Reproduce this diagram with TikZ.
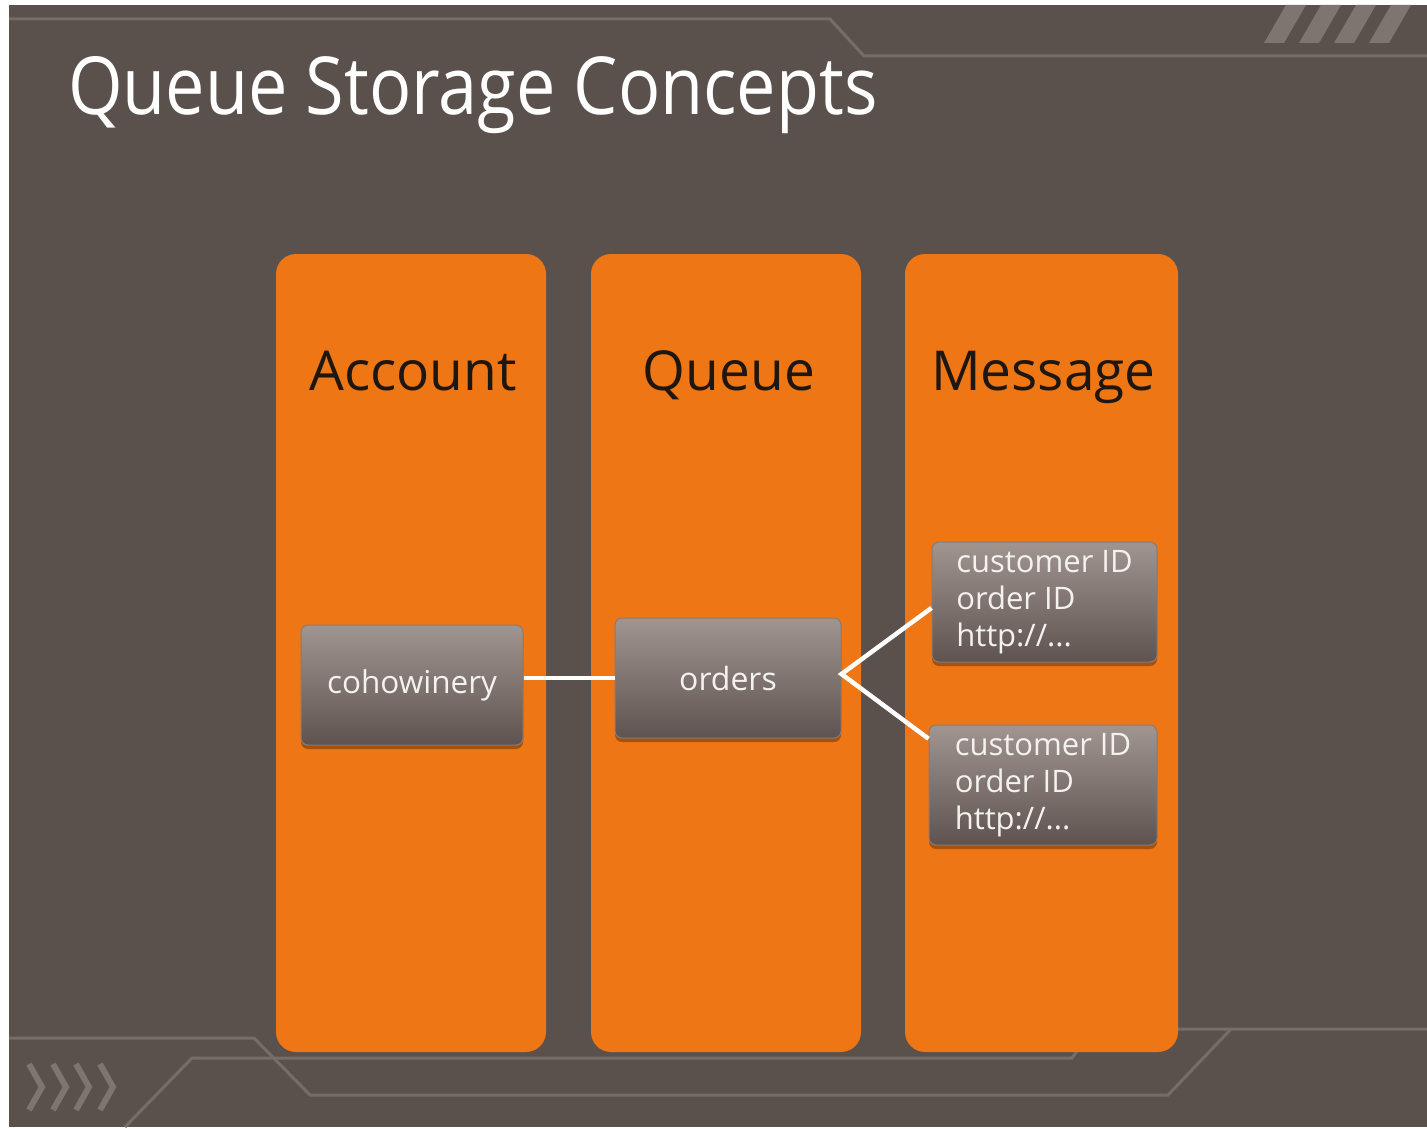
\documentclass[tikz,border=0pt]{standalone}
\usepackage{fontspec}
\setmainfont{Open Sans}
\usetikzlibrary{shadows,calc}

\definecolor{slate}{HTML}{5A514C}
\definecolor{trim}{HTML}{766D68}
\definecolor{stripe}{HTML}{7E7571}
\definecolor{tangerine}{HTML}{EE7614}
\definecolor{ink}{HTML}{1E1610}
\definecolor{boxtop}{HTML}{A0958F}
\definecolor{boxbot}{HTML}{5E5350}
\definecolor{boxedge}{HTML}{867B77}
\definecolor{pale}{HTML}{F4F2EF}

\begin{document}
\begin{tikzpicture}[x=1pt,y=-1pt,
  trimline/.style={draw=trim, line width=3pt},
  chevron/.style={draw=stripe, line width=6pt},
  column/.style={fill=tangerine, rounded corners=20pt, minimum width=270pt,
    minimum height=798pt, inner sep=0pt},
  heading/.style={text=ink, font=\fontsize{55}{60}\selectfont, inner sep=0pt, anchor=base},
  item/.style={rounded corners=7pt, top color=boxtop, bottom color=boxbot,
    draw=boxedge, line width=1pt, minimum height=120pt, inner sep=0pt,
    text=pale, drop shadow={shadow xshift=0pt, shadow yshift=-4pt, opacity=0.3, fill=black}},
  label/.style={item, minimum width=222pt},
  record/.style={item, minimum width=225pt, align=left, font=\fontsize{31}{37}\selectfont},
  link/.style={draw=white, line width=4.5pt}
]
% page and background panel
\fill[white] (0,0) rectangle (1427,1129);
\useasboundingbox (0,0) rectangle (1427,1129);
\fill[slate] (9,5) rectangle (1427,1127);

% top trim line and corner stripes
\draw[trimline] (9,19) -- (830,19) -- (864,56) -- (1427,56);
\foreach \s in {1264,1299,1334,1369}
  \fill[stripe] (\s,43) -- (\s+20,43) -- (\s+42,5) -- (\s+22,5) -- cycle;

% bottom trim lines and chevrons
\draw[trimline] (9,1038) -- (254,1038) -- (310,1095) -- (1168,1095) -- (1231,1029) -- (1427,1029);
\draw[trimline] (125,1127) -- (192,1058) -- (1072,1058) -- (1093,1029) -- (1231,1029);
\foreach \c in {27,51,74,98}
  \draw[chevron] (\c+2,1064) -- (\c+15,1087) -- (\c+2,1110);

% title
\node[anchor=base west, inner sep=0pt, text=white, font=\fontsize{80}{90}\selectfont]
  (title) at (68,115) {\scalebox{0.877}[1]{Queue Storage Concepts}};

% three columns
\node[column] (colA) at (411,653) {};
\node[column] (colQ) at (726,653) {};
\node[column, minimum width=273pt] (colM) at (1041.5,653) {};

\node[heading] (hA) at ($(colA.north)+(2,137)$) {Account};
\node[heading] (hQ) at ($(colQ.north)+(3,137)$) {Queue};
\node[heading] (hM) at ($(colM.north)+(2,137)$) {Message};

% items
\node[label, font=\fontsize{31.5}{36}\selectfont] (coho) at (412,685) {cohowinery};
\node[label, minimum width=226pt, font=\fontsize{32}{36}\selectfont] (orders) at (728,678) {orders};
\node[record] (msgA) at (1044.5,602) {customer ID\\order ID\\http://...};
\node[record, minimum width=228pt] (msgB) at (1043,785) {customer ID\\order ID\\http://...};

% connectors
\draw[link] (coho.east |- orders.west) -- (orders.west);
\draw[link] (msgA.183) -- (orders.2) -- (msgB.158);
\end{tikzpicture}
\end{document}
